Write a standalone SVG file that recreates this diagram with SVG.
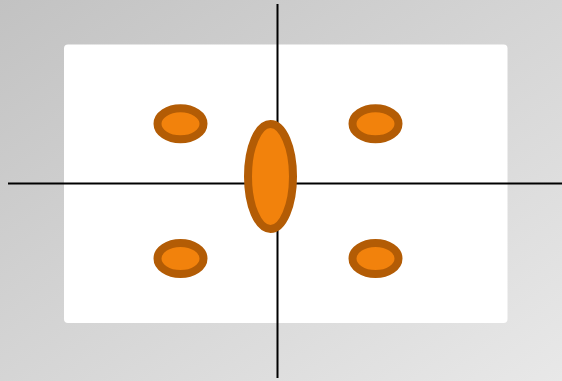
<svg xmlns="http://www.w3.org/2000/svg" width="562" height="381" viewBox="0 0 562 381">
<defs>
<linearGradient id="bg" x1="0" y1="0" x2="1" y2="1">
<stop offset="0" stop-color="#c2c2c2"/>
<stop offset="1" stop-color="#e8e8e8"/>
</linearGradient>
</defs>
<style>
.dot{fill:#f2820c;stroke:#b35c05;stroke-width:8}
.axis{stroke:#000;stroke-width:2;fill:none}
</style>
<rect x="0" y="0" width="562" height="381" fill="url(#bg)"/>
<rect x="64" y="44.5" width="443.5" height="278.5" rx="4" fill="#fff"/>
<g id="connectors">
<line class="axis" x1="277.5" y1="4" x2="277.5" y2="378"/>
<line class="axis" x1="8" y1="183.5" x2="562" y2="183.5"/>
</g>
<g id="center"><ellipse class="dot" cx="270.5" cy="176.5" rx="22.5" ry="52.5"/></g>
<g id="tl"><ellipse class="dot" cx="180.5" cy="123.8" rx="23" ry="15.5"/></g>
<g id="tr"><ellipse class="dot" cx="375.5" cy="123.8" rx="23" ry="15.5"/></g>
<g id="bl"><ellipse class="dot" cx="180.5" cy="258.5" rx="23" ry="15.5"/></g>
<g id="br"><ellipse class="dot" cx="375.5" cy="258.5" rx="23" ry="15.5"/></g>
</svg>
